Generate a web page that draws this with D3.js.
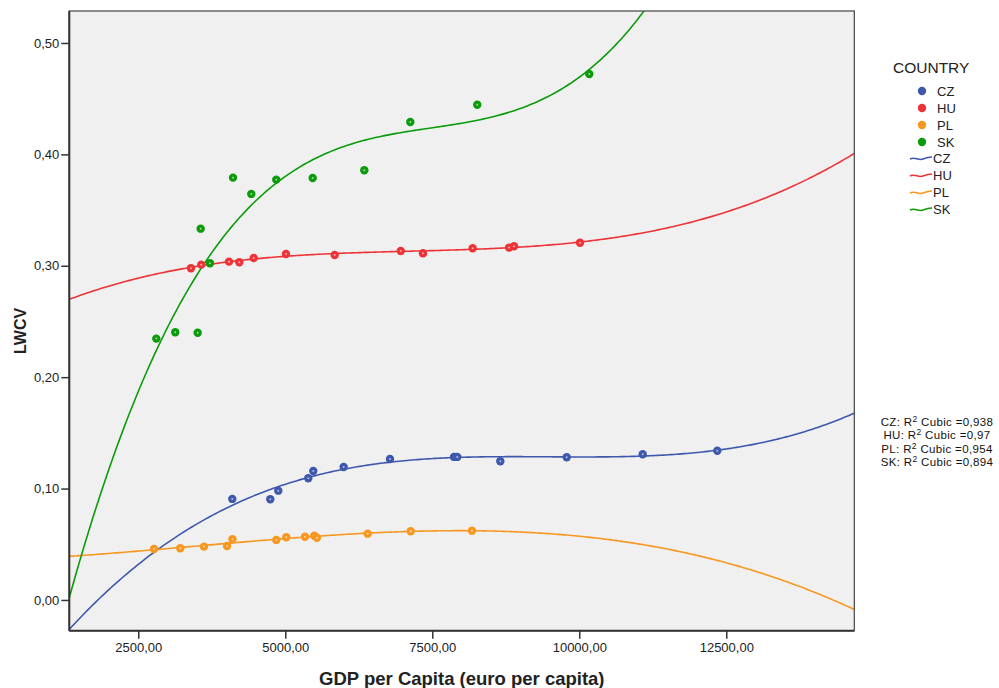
<!DOCTYPE html>
<html><head><meta charset="utf-8">
<script src="https://cdn.jsdelivr.net/npm/d3@7"></script>
<style>body{margin:0;background:#fff;}svg{display:block;font-family:"Liberation Sans",Arial,sans-serif;}</style>
</head><body>
<script>
const countries = ["CZ","HU","PL","SK"];
const colors = ["#3e58ac","#ee3338","#f8971f","#0b9b0b"];
const czGDP = [4099,4745,4881,5391,5476,5993,6781,7869,7925,8657,9786,11078,12347];
const czLWCV = [0.0907,0.0904,0.0981,0.1092,0.1158,0.1194,0.1266,0.1284,0.1284,0.1245,0.1281,0.1308,0.1340];
const huGDP = [3396,3571,4043,4218,4463,5012,5840,6963,7342,8187,8805,8890,10012];
const huLWCV = [0.2978,0.3010,0.3037,0.3031,0.3070,0.3106,0.3097,0.3133,0.3112,0.3157,0.3163,0.3175,0.3207];
const plGDP = [2767,3214,3617,4009,4102,4847,5017,5335,5493,5539,6401,7133,8175];
const plLWCV = [0.0458,0.0464,0.0479,0.0485,0.0545,0.0539,0.0563,0.0568,0.0577,0.0559,0.0595,0.0617,0.0622];
const skGDP = [2806,3129,3510,3561,3719,4111,4422,4847,5466,6344,7126,8265,10170];
const skLWCV = [0.2346,0.2403,0.2399,0.3333,0.3022,0.3791,0.3645,0.3773,0.3788,0.3857,0.4291,0.4446,0.4722];
const r2Values = ["0,938","0,97","0,954","0,894"];
const xTicks = [2500,5000,7500,10000,12500];
const yTicks = [0,0.1,0.2,0.3,0.4,0.5];

const series = [
  {name:"CZ", x:czGDP, y:czLWCV},
  {name:"HU", x:huGDP, y:huLWCV},
  {name:"PL", x:plGDP, y:plLWCV},
  {name:"SK", x:skGDP, y:skLWCV}
];

const W=999,H=688;
const L=69.3,R=854.3,T=11,B=630.7;
const x = d3.scaleLinear().domain([1327,14677]).range([L,R]);
const y = d3.scaleLinear().domain([-0.0276,0.5287]).range([B,T]);

const svg = d3.select("body").append("svg").attr("width",W).attr("height",H);
svg.append("rect").attr("x",L).attr("y",T).attr("width",R-L).attr("height",B-T).attr("fill","#f0f0f0");
svg.append("clipPath").attr("id","clip").append("rect").attr("x",L).attr("y",T).attr("width",R-L).attr("height",B-T);

function cubicFit(xs, ys){
  const n=xs.length, c=5000, s=1000;
  const A=[[0,0,0,0],[0,0,0,0],[0,0,0,0],[0,0,0,0]], b=[0,0,0,0];
  for(let i=0;i<n;i++){
    const t=(xs[i]-c)/s; const p=[1,t,t*t,t*t*t];
    for(let r=0;r<4;r++){ b[r]+=p[r]*ys[i]; for(let k=0;k<4;k++) A[r][k]+=p[r]*p[k]; }
  }
  for(let i=0;i<4;i++){
    let m=i; for(let r=i+1;r<4;r++) if(Math.abs(A[r][i])>Math.abs(A[m][i])) m=r;
    [A[i],A[m]]=[A[m],A[i]]; [b[i],b[m]]=[b[m],b[i]];
    for(let r=i+1;r<4;r++){ const f=A[r][i]/A[i][i]; for(let k=i;k<4;k++) A[r][k]-=f*A[i][k]; b[r]-=f*b[i]; }
  }
  const co=[0,0,0,0];
  for(let i=3;i>=0;i--){ let v=b[i]; for(let k=i+1;k<4;k++) v-=A[i][k]*co[k]; co[i]=v/A[i][i]; }
  return v=>{const t=(v-c)/s; return co[0]+co[1]*t+co[2]*t*t+co[3]*t*t*t;};
}

const gLines = svg.append("g").attr("clip-path","url(#clip)");
const line = d3.line().x(d=>x(d[0])).y(d=>y(d[1]));
series.forEach((s,i)=>{
  const f = cubicFit(s.x,s.y);
  const pts = d3.range(0,301).map(k=>{const v=x.domain()[0]+(x.domain()[1]-x.domain()[0])*k/300; return [v,f(v)];});
  gLines.append("path").datum(pts).attr("d",line).attr("fill","none").attr("stroke",colors[i]).attr("stroke-width",1.6);
});
const gPts = svg.append("g");
series.forEach((s,i)=>{
  s.x.forEach((v,j)=>{
    gPts.append("circle").attr("cx",x(v)).attr("cy",y(s.y[j])).attr("r",4.2).attr("fill",colors[i]);
    gPts.append("circle").attr("cx",x(v)).attr("cy",y(s.y[j])).attr("r",1).attr("fill","#ffffff").attr("opacity",0.6);
  });
});

// axes
const fmtNum = d=>d3.format(".2f")(d).replace(".",",");
const xAxis = svg.append("g").attr("transform",`translate(0,${B})`).call(d3.axisBottom(x).tickValues(xTicks).tickSize(8).tickPadding(4).tickFormat(fmtNum));
const yAxis = svg.append("g").attr("transform",`translate(${L},0)`).call(d3.axisLeft(y).tickValues(yTicks).tickSize(8).tickPadding(2).tickFormat(fmtNum));
[xAxis,yAxis].forEach(a=>{
  a.select(".domain").remove();
  a.selectAll("line").attr("stroke","#333").attr("stroke-width",1.5);
  a.selectAll("text").attr("fill","#222").style("font-size","13px").style("font-family","Liberation Sans, Arial, sans-serif");
});
svg.append("rect").attr("x",L).attr("y",T).attr("width",R-L).attr("height",B-T).attr("fill","none").attr("stroke","#444").attr("stroke-width",1.2);
svg.append("line").attr("x1",L).attr("x2",L).attr("y1",T).attr("y2",B).attr("stroke","#333").attr("stroke-width",2);
svg.append("line").attr("x1",L).attr("x2",R).attr("y1",B).attr("y2",B).attr("stroke","#333").attr("stroke-width",2);

svg.append("text").attr("x",(L+R)/2).attr("y",685).attr("text-anchor","middle").attr("font-weight","bold").attr("font-size","18.5px").attr("fill","#222").text("GDP per Capita (euro per capita)");
svg.append("text").attr("transform","translate(26,331) rotate(-90)").attr("text-anchor","middle").attr("font-weight","bold").attr("font-size","16px").attr("fill","#222").text("LWCV");

// legend
const lg = svg.append("g");
lg.append("text").attr("x",893).attr("y",73).attr("font-size","15.5px").attr("fill","#222").text("COUNTRY");
countries.forEach((c,i)=>{
  const yy = 91+i*17;
  lg.append("circle").attr("cx",922).attr("cy",yy).attr("r",4.2).attr("fill",colors[i]);
  lg.append("text").attr("x",937).attr("y",yy+4.5).attr("font-size","13px").attr("fill","#222").text(c);
});
countries.forEach((c,i)=>{
  const yy = 158+i*17;
  lg.append("path").attr("d",`M910,${yy+1} C915,${yy-2} 918,${yy+3} 923,${yy+1} S928,${yy-1} 932,${yy-1}`).attr("fill","none").attr("stroke",colors[i]).attr("stroke-width",1.5);
  lg.append("text").attr("x",933).attr("y",yy+4.5).attr("font-size","13px").attr("fill","#222").text(c);
});

// R2 labels
const rg = svg.append("g").attr("font-size","11.5px").attr("fill","#111").attr("text-anchor","middle");
countries.forEach((c,i)=>{
  const t = rg.append("text").attr("x",937).attr("y",426+i*13.4).attr("letter-spacing","0.35px");
  t.append("tspan").text((i===1?" ":"")+c+": R");
  t.append("tspan").attr("dy",-4).attr("font-size","8.5px").text("2");
  t.append("tspan").attr("dy",4).text(" Cubic ="+r2Values[i]);
});
</script>
</body></html>
